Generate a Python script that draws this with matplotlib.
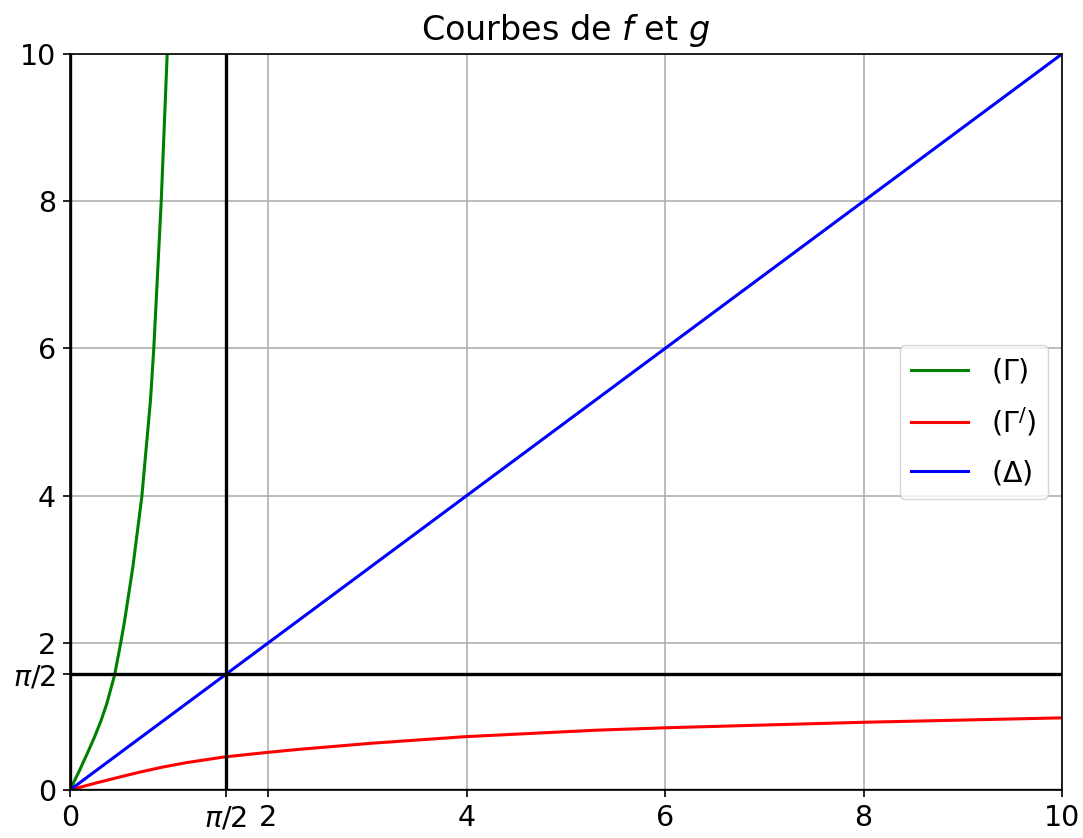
import numpy as np
import matplotlib
matplotlib.use("Agg")
import matplotlib.pyplot as plt

# points (Gamma) ; (Gamma') est sa symetrique par rapport a y = x
f_x = [0, 0.096, 0.173, 0.247, 0.314, 0.371, 0.449, 0.509, 0.534, 0.551,
       0.634, 0.724, 0.812, 0.845, 0.920, 0.980]
f_y = [0, 0.265, 0.492, 0.718, 0.945, 1.172, 1.557, 1.978, 2.169, 2.30,
       3.03, 3.98, 5.30, 6.0, 8.0, 10.0]
delta_x = [0, 10]
delta_y = [0, 10]

ticks = [0, np.pi / 2, 2, 4, 6, 8, 10]
tick_labels = ['0', r'$\pi/2$', '2', '4', '6', '8', '10']

plt.rcParams['font.size'] = 20.5
plt.rcParams['xtick.major.size'] = 5.2
plt.rcParams['ytick.major.size'] = 5.2
plt.rcParams['xtick.major.width'] = 1.2
plt.rcParams['ytick.major.width'] = 1.2
plt.rcParams['xtick.major.pad'] = 5
plt.rcParams['ytick.major.pad'] = 5
plt.rcParams['axes.linewidth'] = 1.2
plt.rcParams['grid.linewidth'] = 1.2

fig = plt.figure(figsize=(10.83, 8.38), dpi=100)
ax = fig.add_axes([0.0646, 0.0573, 0.916, 0.8783])

ax.plot(f_x, f_y, color='green', lw=2.2, label=r'$(\Gamma)$')
ax.plot(f_y, f_x, color='red', lw=2.2, label=r'$(\Gamma^{/})$')
ax.plot(delta_x, delta_y, color='blue', lw=2.2, label=r'$(\Delta)$')

ax.axhline(0, color='black', lw=2.4)
ax.axvline(0, color='black', lw=2.4)
ax.axhline(np.pi / 2, color='black', lw=2.4)
ax.axvline(np.pi / 2, color='black', lw=2.4)

ax.set_xlim(0, 10)
ax.set_ylim(0, 10)
ax.set_xticks(ticks)
ax.set_xticklabels(tick_labels)
ax.set_yticks(ticks)
ax.set_yticklabels(tick_labels)
ax.grid(True)
ax.set_title('Courbes de $f$ et $g$', fontsize=24, pad=10)
ax.legend(loc='center right', fontsize=20.5, labelspacing=0.7)

fig.savefig('out.png', dpi=100)
